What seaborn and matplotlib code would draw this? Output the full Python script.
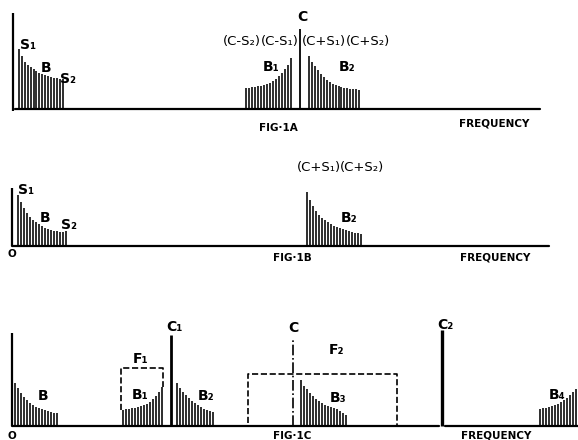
import numpy as np
import matplotlib
matplotlib.use("Agg")
import matplotlib.pyplot as plt
import seaborn as sns

sns.set_style("white")
plt.rcParams['font.family'] = ['DejaVu Sans']
plt.rcParams['text.color'] = 'black'

# ---- FIG 1A : baseband and modulated carrier ----
a_band_start, a_band_step = 19, 2.9
a_band = [60, 53, 47, 44, 42, 40, 38, 36, 35, 34, 33, 32, 31, 31, 30, 30]
a_lower_start, a_lower_step = 246, 3.0
a_lower = [21, 21, 22, 22, 23, 23, 24, 25, 26, 28, 30, 33, 36, 40, 44, 51]
a_carrier_f, a_carrier_h = 300, 80
a_upper_start, a_upper_step = 309, 2.95
a_upper = [53, 47, 43, 39, 35, 32, 29, 27, 25, 24, 23, 22, 21, 21, 20, 20, 20, 19]

# ---- FIG 1B : single sideband ----
b_band_start, b_band_step = 18, 3.0
b_band = [51, 44, 38, 33, 29, 26, 24, 22, 20, 18, 17, 16, 15, 15, 14, 14, 15]
b_upper_start, b_upper_step = 307, 3.0
b_upper = [54, 46, 40, 35, 31, 28, 26, 24, 22, 20, 19, 18, 17, 16, 15, 14, 13, 13, 12]

# ---- FIG 1C : multiple carriers ----
c_band_start, c_band_step = 15, 3.0
c_band = [43, 38, 33, 29, 26, 23, 21, 19, 18, 17, 16, 15, 14, 13, 13]
c_b1_start, c_b1_step = 123, 3.0
c_b1 = [16, 17, 17, 18, 18, 19, 20, 21, 22, 24, 27, 30, 34, 39]
c_c1_f, c_c1_h = 171, 91
c_b2_start, c_b2_step = 177, 3.0
c_b2 = [43, 38, 34, 31, 28, 25, 23, 21, 19, 17, 16, 15, 14]
c_c_f, c_c_h = 293, 88
c_b3_start, c_b3_step = 301, 3.0
c_b3 = [46, 40, 37, 33, 30, 27, 25, 23, 21, 20, 19, 18, 17, 15, 13, 11]
c_c2_f, c_c2_h = 442, 96
c_b4_start, c_b4_step = 540, 3.0
c_b4 = [17, 18, 18, 19, 20, 21, 22, 24, 26, 28, 31, 34, 37]
f1_lo, f1_hi, f1_h = 121, 163, 58
f2_lo, f2_hi, f2_h = 248, 397, 52

W, H = 578, 440
fig = plt.figure(figsize=(W / 100, H / 100), dpi=100)


def panel(top_px, bot_px, base_px):
    ax = fig.add_axes([0, 1 - bot_px / H, 1, (bot_px - top_px) / H])
    ax.set_xlim(0, W)
    ax.set_ylim(base_px - bot_px, base_px - top_px)
    ax.axis('off')
    return ax


def lines(ax, start, step, heights, lw=1.15):
    f = start + step * np.arange(len(heights))
    ax.vlines(f, 0, heights, color='black', lw=lw)


lab = dict(fontsize=10, fontweight='bold', ha='center', va='center')
small = dict(fontsize=7.5, fontweight='bold', ha='center', va='center')
paren = dict(fontsize=9.5, ha='center', va='center')

# FIG 1A
ax = panel(0, 135, 109)
ax.plot([15, 540], [0, 0], color='black', lw=1.6)
ax.vlines(13, -2, 96, color='black', lw=1.6)
lines(ax, a_band_start, a_band_step, a_band)
lines(ax, a_lower_start, a_lower_step, a_lower)
ax.vlines(a_carrier_f, 0, a_carrier_h, color='black', lw=1.3)
lines(ax, a_upper_start, a_upper_step, a_upper)
ax.text(28, 64, 'S₁', **lab)
ax.text(46, 41, 'B', **lab)
ax.text(68, 30, 'S₂', **lab)
ax.text(302, 92, 'C', **lab)
for x, s in [(242, '(C-S₂)'), (280, '(C-S₁)'), (324, '(C+S₁)'), (368, '(C+S₂)')]:
    ax.text(x, 68, s, **paren)
ax.text(271, 42, 'B₁', **lab)
ax.text(347, 42, 'B₂', **lab)
ax.text(278, -19, 'FIG·1A', **small)
ax.text(494, -14, 'FREQUENCY', **small)

# FIG 1B
ax = panel(140, 270, 246)
ax.plot([12, 549], [0, 0], color='black', lw=1.6)
ax.vlines(12, 0, 58, color='black', lw=1.6)
lines(ax, b_band_start, b_band_step, b_band)
lines(ax, b_upper_start, b_upper_step, b_upper)
ax.text(26, 56, 'S₁', **lab)
ax.text(45, 28, 'B', **lab)
ax.text(69, 21, 'S₂', **lab)
ax.text(319, 78, '(C+S₁)', **paren)
ax.text(362, 78, '(C+S₂)', **paren)
ax.text(349, 28, 'B₂', **lab)
ax.text(12, -8, 'O', **small)
ax.text(292, -12, 'FIG·1B', **small)
ax.text(495, -11, 'FREQUENCY', **small)

# FIG 1C
ax = panel(300, 440, 426)
ax.plot([12, 439], [0, 0], color='black', lw=1.6)
ax.plot([445, 578], [0, 0], color='black', lw=1.6)
ax.vlines(12, 0, 93, color='black', lw=1.6)
lines(ax, c_band_start, c_band_step, c_band)
lines(ax, c_b1_start, c_b1_step, c_b1)
ax.vlines(c_c1_f, 0, c_c1_h, color='black', lw=2.0)
lines(ax, c_b2_start, c_b2_step, c_b2)
ax.vlines(c_c_f, 0, c_c_h, color='black', lw=1.2, linestyles='dashdot')
lines(ax, c_b3_start, c_b3_step, c_b3)
ax.vlines(c_c2_f, 0, c_c2_h, color='black', lw=2.4)
lines(ax, c_b4_start, c_b4_step, c_b4)
ax.plot([f1_lo, f1_lo, f1_hi, f1_hi], [c_b1[0], f1_h, f1_h, c_b1[-1]],
        color='black', lw=1.2, ls='--')
ax.plot([f2_lo, f2_lo, f2_hi, f2_hi], [3, f2_h, f2_h, 0],
        color='black', lw=1.2, ls='--')
ax.text(43, 30, 'B', **lab)
ax.text(141, 67, 'F₁', **lab)
ax.text(140, 31, 'B₁', **lab)
ax.text(174, 99, 'C₁', **lab)
ax.text(206, 30, 'B₂', **lab)
ax.text(293, 98, 'C', **lab)
ax.text(336, 76, 'F₂', **lab)
ax.text(338, 28, 'B₃', **lab)
ax.text(445, 101, 'C₂', **lab)
ax.text(557, 31, 'B₄', **lab)
ax.text(12, -10, 'O', **small)
ax.text(292, -10, 'FIG·1C', **small)
ax.text(496, -9, 'FREQUENCY', **small)

fig.savefig('out.png', dpi=100)
